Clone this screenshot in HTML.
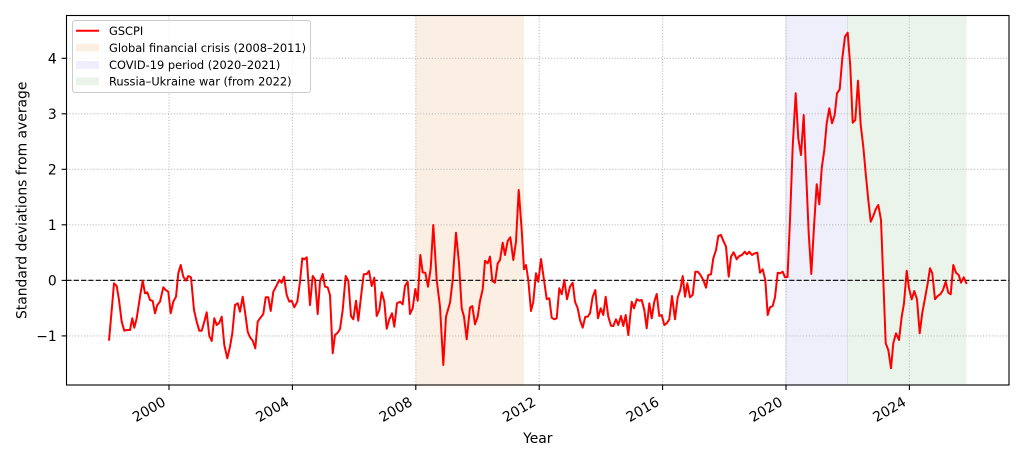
<!DOCTYPE html>
<html>
<head>
<meta charset="utf-8">
<style>
html,body{margin:0;padding:0;background:#fff;}
svg{display:block;}
text{font-family:"DejaVu Sans","Liberation Sans",sans-serif;fill:#000;}
</style>
</head>
<body>
<svg width="1024" height="461" viewBox="0 0 1024 461" xmlns="http://www.w3.org/2000/svg">
<rect x="0" y="0" width="1024" height="461" fill="#fff"/>
<!-- spans -->
<rect x="415.8" y="15.5" width="108.2" height="369.5" fill="#fbefe3"/>
<rect x="786" y="15.5" width="61.5" height="369.5" fill="#efeffc"/>
<rect x="847.5" y="15.5" width="119" height="369.5" fill="#ebf4eb"/>
<line x1="786" y1="15.5" x2="786" y2="385" stroke="#dcdcf4" stroke-width="1"/>
<line x1="847.5" y1="15.5" x2="847.5" y2="385" stroke="#d6e2e2" stroke-width="1"/>
<!-- grid -->
<g stroke="#bdbdbd" stroke-width="1.1" stroke-dasharray="1.1 1.8" fill="none">
<line x1="169" y1="15.5" x2="169" y2="385"/>
<line x1="292.4" y1="15.5" x2="292.4" y2="385"/>
<line x1="415.8" y1="15.5" x2="415.8" y2="385"/>
<line x1="539.2" y1="15.5" x2="539.2" y2="385"/>
<line x1="662.6" y1="15.5" x2="662.6" y2="385"/>
<line x1="786" y1="15.5" x2="786" y2="385"/>
<line x1="909.4" y1="15.5" x2="909.4" y2="385"/>
<line x1="66.5" y1="58.3" x2="1009" y2="58.3"/>
<line x1="66.5" y1="113.8" x2="1009" y2="113.8"/>
<line x1="66.5" y1="169.3" x2="1009" y2="169.3"/>
<line x1="66.5" y1="224.8" x2="1009" y2="224.8"/>
<line x1="66.5" y1="280.4" x2="1009" y2="280.4"/>
<line x1="66.5" y1="335.9" x2="1009" y2="335.9"/>
</g>
<!-- zero line -->
<line x1="66.5" y1="280.4" x2="1009" y2="280.4" stroke="#1a1a1a" stroke-width="1.3" stroke-dasharray="5.1 2.2"/>
<!-- data -->
<polyline fill="none" stroke="#ff0000" stroke-width="2" stroke-linejoin="round" stroke-linecap="butt" points="
109,340.7 112.3,303.3 114,283.3 116.7,286 119,300 121.7,321.7 124.3,330.7 126.7,330 130,330 132.3,318.3 134.3,327.7 136.7,318.3 140,296.7 142.7,280.7 145,293.3 147.3,292.3 150,300 152.7,301 155,313.3 157.3,305 160,301.7 163.3,287.3 165.7,290 168.3,291.7 170.7,313.3 173.3,301.7 176,296.7 178.3,273.3 180.7,265 183.3,276.7 186,280.7 188.3,276 191,277.3 194,310 196.7,321.7 199.3,330.7 201.7,330.7 204.3,321.7 206.7,312.3 209.3,336 211.7,341 214.3,318.3 216.7,325 219.3,322.7 221.7,316.7 224.3,345 227.3,358.3 230,346.7 232.3,333.3 235,305 237.7,303.3 240,311.7 242.7,296.7 245,311.7 247.7,331.7 250,337.3 252.7,340.7 255.3,348.3 257.7,321.7 260,318.3 263.3,314 265.7,297.3 268.3,297.3 270.7,311 273.3,291.7 276,286.7 279.3,280
281.7,282.7 284,276.7 286.7,295 289.3,301.7 291.7,300.7 294.3,307.3 297.3,301.7 300,281.7 302.3,258.3 304.3,259.3 306.7,257.3 310,305 312.7,276 315,279.3 317.7,314 320,281.7 322.7,274 325,286.7 327.7,287.3 330,295 332.7,353.3 335,335 337.7,332.7 340,329 342.7,310 345.7,276 348.3,280.7 351,316 353.3,319.3 356,300.7 358.3,320.7 361,296.7 363.7,274.3 366.7,274 369,271 371.7,286 374.3,277.7 376.7,316 379.3,310 381.7,292.3 384.3,301.7 386.7,328.7 389.3,319.3 392,313.3 394.3,326.7 397,303.3 400,301.7 402.7,304.3 405,286 407.7,281.7 410,314 412.7,308.3 415.3,289 417.7,300.7 420.3,255 422.7,272.3 425.3,272.7 428,286.7 430.7,268.3 433.3,225 436.7,280 440,306.7 443.3,365 446,316.7
450,302.7 452.7,280 456,232.7 459,263.3 461.7,308.3 464,316.7 466.7,339.3 470,307.7 472.3,306 475,324.3 477.7,316.7 480,301 482.7,289.3 485,260.7 487.7,263.3 490,256.7 492.3,281 495,282.7 497.7,263.3 500,260 502.7,242.7 505,255 507.7,241 510.3,237.3 513.3,260 516,241.7 518.7,190 521.7,230 524,269.3 526,265 528.3,280 531,311 533.3,301.7 536,273.3 538.3,281.7 541,259 544,280 546.7,299 549.3,298.3 551.7,317.7 554.3,319.3 556.7,318.3 559.3,288.3 561.7,294.3 564.3,280 567,299.3 570,286.7 572.7,282.7 575,301.7 577.7,308.3 580,320 582.7,327.7 585.3,316.7 587.7,316.7 590,313.3 592.7,296.7 595.3,290 598,318.3 600.7,308.3 603.3,315 605.7,296.7 608.3,316.7 611,325.7 613.3,326 616,319.3 618.3,325
621,316 623.3,326 625.7,315 628.3,335 631.7,301.7 634,308.3 636.7,299.3 639.3,300.7 641.7,300 644.3,310 646.7,328.3 649.3,303.3 651.7,318.3 654.3,301.7 656.7,294 659.3,316 661.7,315 664.3,325 666.7,323.3 669.3,319.3 672,296 675,319.3 677.7,297.3 680.3,290 682.7,276 685,296.7 687.3,283.3 690,297.3 692.7,295 695.3,271.7 697.7,271.7 700,274.3 703.3,280 706,287.7 708.3,275 711,274.3 713.3,258.3 716,250 718.3,236 721,235 723.3,240.7 726,246.7 728.7,276.7 731,256.7 733.7,252.3 736.7,259.3 739.3,256 742,255 744.7,251.7 747,254.3 749.3,251.7 752,255 754.7,253.3 757.3,252.7 760,272.7 762.7,269.3 765.3,280 767.7,315 770,307.3 772.7,306 775,297.3 777.7,272.7 780,273.3 782.7,271.7 785,277.3 787.5,277
790,220 792.7,146.7 795.7,93.3 798.3,138.3 801,155 803.7,115 806,170 808.7,233.3 811.3,274 814,226.7 816.7,184.3 819.3,204.3 821.7,168.3 824.3,150 826.7,123.3 829.3,108.3 832,123.3 834.7,115 837,93.3 839.7,89.3 842.3,58.3 845,36.7 847.7,32.7 850.3,66.7 852.7,122.7 855.3,120 858,80.7 860.7,125 863.3,146.7 866,176.7
868.3,200 870.7,221.7 873.3,216 875.7,209.3 878.3,205 881,220 883.3,280 885.7,343.3 888.3,350 891,368.3 893.3,343.3 896,333.3 899,340 901.7,316.7 904,303.3 906.7,270.7 909,288.3 911.7,299.3 914.3,291 917,299.3 919.7,333.3 922.3,312.7 925,298.3 927.7,283.3 930,268.3 932.3,273.3 935,299.3 937.7,296 940.3,294.3 943,290 945.7,281.7 948.3,292.7 950.7,294.3 953.3,265 956,272.7 958.7,275 961,282.7 963.7,277.3 966.7,284"/>
<!-- spines -->
<rect x="66.5" y="15.5" width="942.5" height="369.5" fill="none" stroke="#000" stroke-width="1.1"/>
<!-- ticks -->
<g stroke="#000" stroke-width="1.1">
<line x1="169" y1="385" x2="169" y2="390"/>
<line x1="292.4" y1="385" x2="292.4" y2="390"/>
<line x1="415.8" y1="385" x2="415.8" y2="390"/>
<line x1="539.2" y1="385" x2="539.2" y2="390"/>
<line x1="662.6" y1="385" x2="662.6" y2="390"/>
<line x1="786" y1="385" x2="786" y2="390"/>
<line x1="909.4" y1="385" x2="909.4" y2="390"/>
<line x1="61.6" y1="58.3" x2="66.5" y2="58.3"/>
<line x1="61.6" y1="113.8" x2="66.5" y2="113.8"/>
<line x1="61.6" y1="169.3" x2="66.5" y2="169.3"/>
<line x1="61.6" y1="224.8" x2="66.5" y2="224.8"/>
<line x1="61.6" y1="280.4" x2="66.5" y2="280.4"/>
<line x1="61.6" y1="335.9" x2="66.5" y2="335.9"/>
</g>
<!-- y tick labels -->
<g font-size="13.9" text-anchor="end">
<text x="56.7" y="63.3">4</text>
<text x="56.7" y="118.8">3</text>
<text x="56.7" y="174.3">2</text>
<text x="56.7" y="229.8">1</text>
<text x="56.7" y="285.4">0</text>
<text x="56.7" y="340.9">−1</text>
</g>
<!-- x tick labels -->
<g font-size="13.9" text-anchor="end">
<text transform="translate(166.6,404.7) rotate(-30)">2000</text>
<text transform="translate(290,404.7) rotate(-30)">2004</text>
<text transform="translate(413.4,404.7) rotate(-30)">2008</text>
<text transform="translate(536.8,404.7) rotate(-30)">2012</text>
<text transform="translate(660.2,404.7) rotate(-30)">2016</text>
<text transform="translate(783.6,404.7) rotate(-30)">2020</text>
<text transform="translate(907,404.7) rotate(-30)">2024</text>
</g>
<!-- axis labels -->
<text x="537.8" y="443" font-size="13.9" text-anchor="middle">Year</text>
<text transform="translate(26.5,200.3) rotate(-90)" font-size="13.9" text-anchor="middle">Standard deviations from average</text>
<!-- legend -->
<rect x="72.5" y="20.5" width="238" height="72" rx="2.5" ry="2.5" fill="#fff" fill-opacity="0.8" stroke="#cccccc" stroke-width="1"/>
<line x1="76" y1="30.7" x2="99" y2="30.7" stroke="#ff0000" stroke-width="2"/>
<rect x="76" y="43.8" width="23" height="7.8" fill="#fbefe3"/>
<rect x="76" y="61" width="23" height="7.8" fill="#efeffc"/>
<rect x="76" y="77.5" width="23" height="7.8" fill="#ebf4eb"/>
<g font-size="11.4">
<text x="109" y="34.8">GSCPI</text>
<text x="109" y="51.8">Global financial crisis (2008–2011)</text>
<text x="109" y="69">COVID-19 period (2020–2021)</text>
<text x="109" y="85.5">Russia–Ukraine war (from 2022)</text>
</g>
</svg>
</body>
</html>
